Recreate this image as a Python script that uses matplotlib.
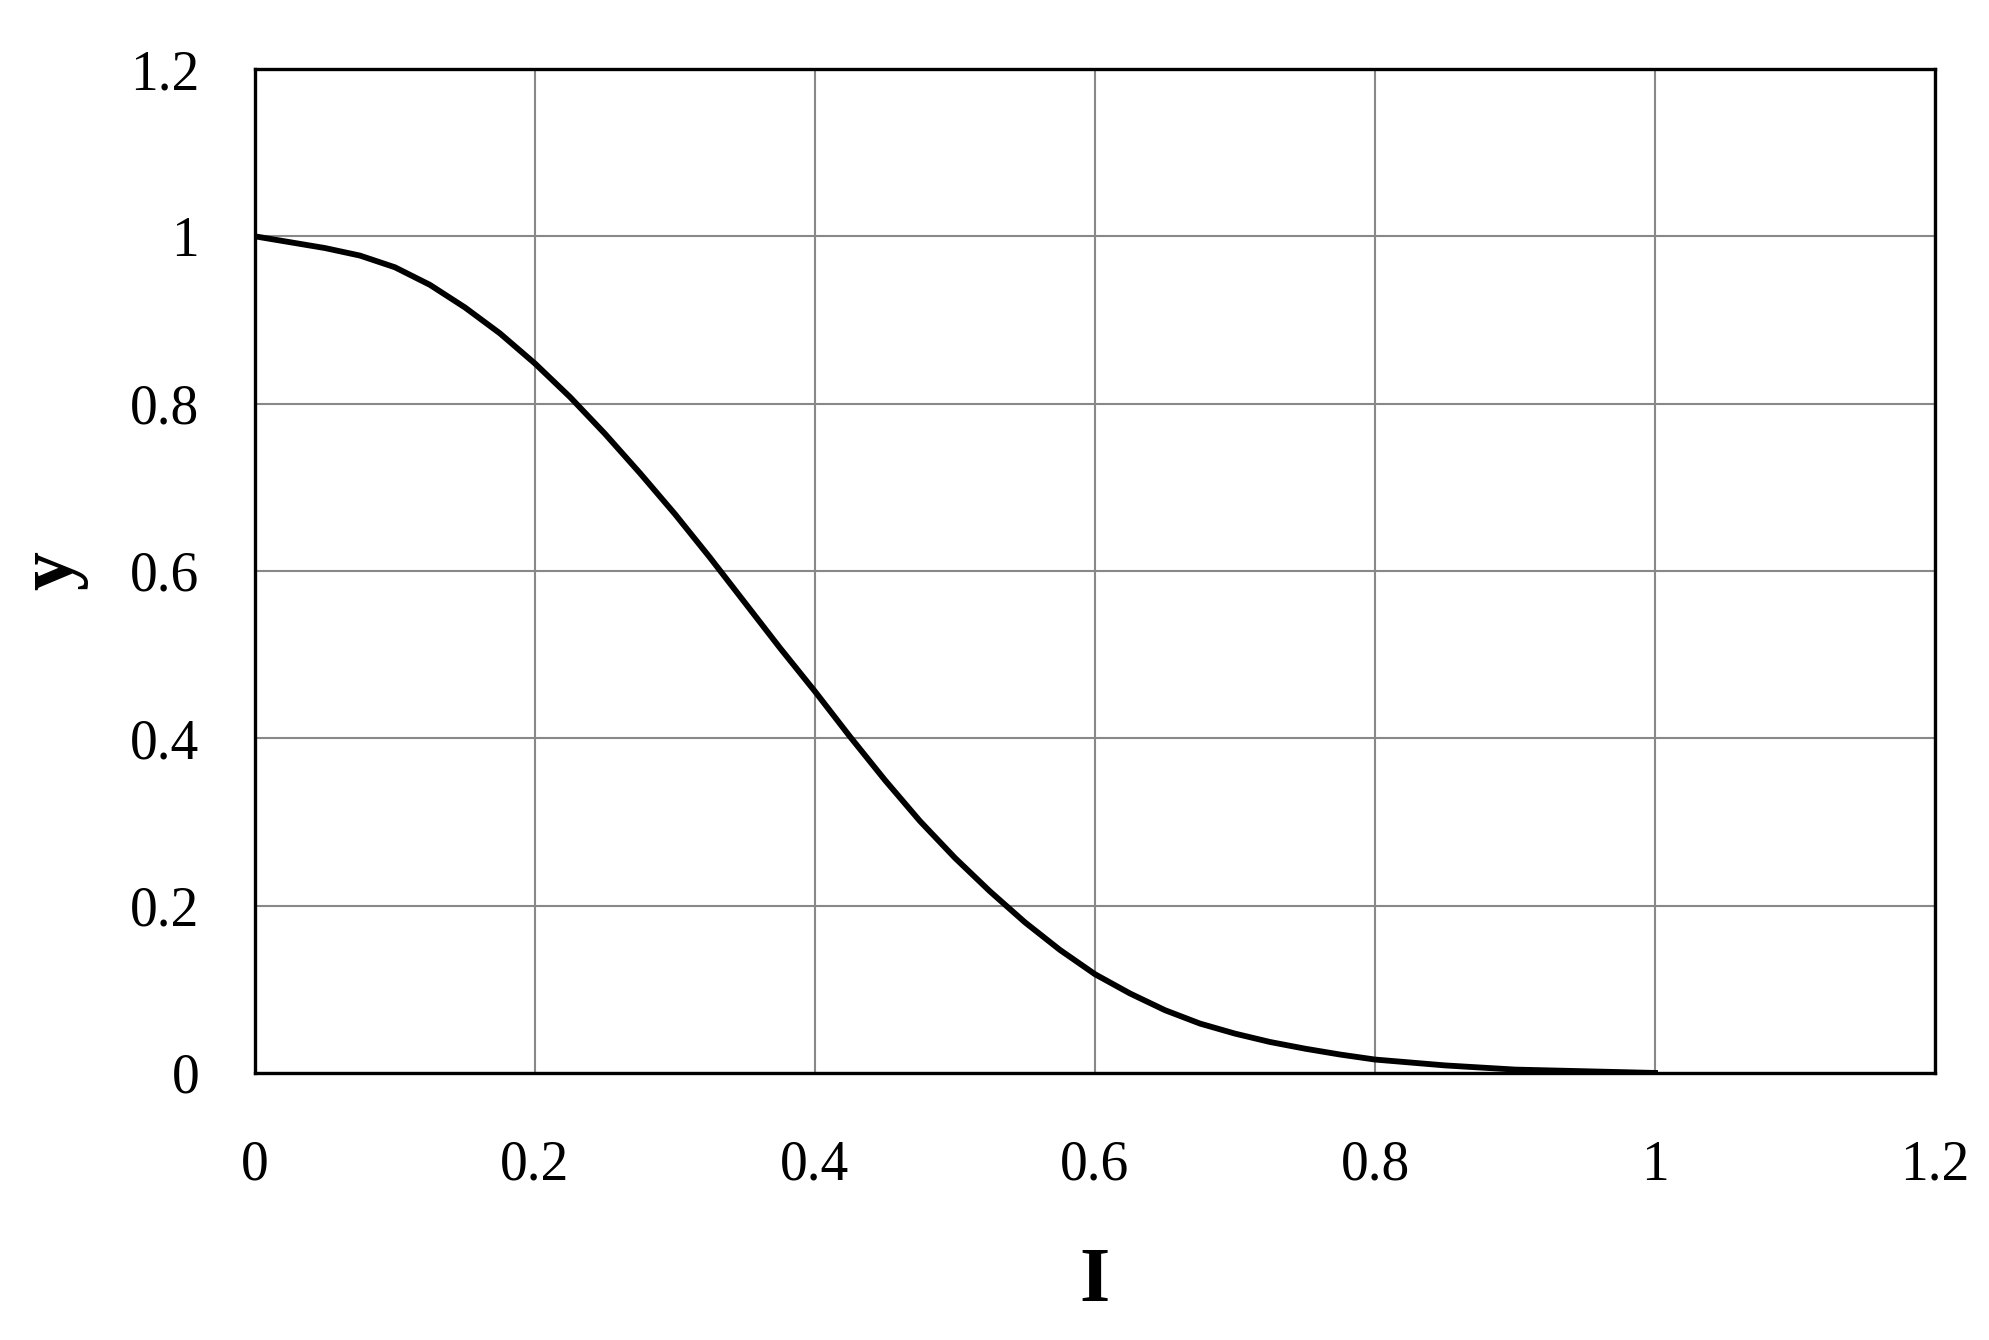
import matplotlib
matplotlib.use('Agg')
import matplotlib.pyplot as plt

plt.rcParams['font.family'] = ['Liberation Serif', 'DejaVu Serif']

# curve values
I_vals = [0, 0.025, 0.05, 0.075, 0.1, 0.125, 0.15, 0.175, 0.2, 0.225, 0.25, 0.275,
          0.3, 0.325, 0.35, 0.375, 0.4, 0.425, 0.45, 0.475, 0.5, 0.525, 0.55, 0.575,
          0.6, 0.625, 0.65, 0.675, 0.7, 0.725, 0.75, 0.775, 0.8, 0.85, 0.9, 0.95, 1.0]
y_vals = [1.000, 0.993, 0.986, 0.977, 0.963, 0.942, 0.915, 0.884, 0.848, 0.808, 0.764, 0.717,
          0.668, 0.616, 0.562, 0.508, 0.456, 0.402, 0.350, 0.301, 0.257, 0.217, 0.180, 0.147,
          0.118, 0.095, 0.075, 0.059, 0.047, 0.037, 0.029, 0.022, 0.016, 0.009, 0.004, 0.002, 0.0]

ticks = [0, 0.2, 0.4, 0.6, 0.8, 1.0, 1.2]
tick_labels = ['0', '0.2', '0.4', '0.6', '0.8', '1', '1.2']

fig = plt.figure(figsize=(19.9, 13.4), dpi=100)
ax = fig.add_axes([0.1281, 0.1993, 0.8443, 0.7492])

ax.plot(I_vals, y_vals, color='black', linewidth=4.2, solid_joinstyle='round', zorder=3)

ax.set_xlim(0, 1.2)
ax.set_ylim(0, 1.2)
ax.set_xticks(ticks)
ax.set_yticks(ticks)
ax.set_xticklabels(tick_labels)
ax.set_yticklabels(tick_labels)
ax.tick_params(length=0, labelsize=40, pad=40)
ax.tick_params(axis='x', pad=48)

ax.grid(True, color='#888888', linewidth=1.5)
ax.set_axisbelow(True)
for s in ax.spines.values():
    s.set_linewidth(2.4)
    s.set_color('black')

ax.set_xlabel('I', fontsize=56, fontweight='bold', labelpad=40)
ax.set_ylabel('y', fontsize=56, fontweight='bold', labelpad=30)

fig.savefig('out.png', dpi=100)
